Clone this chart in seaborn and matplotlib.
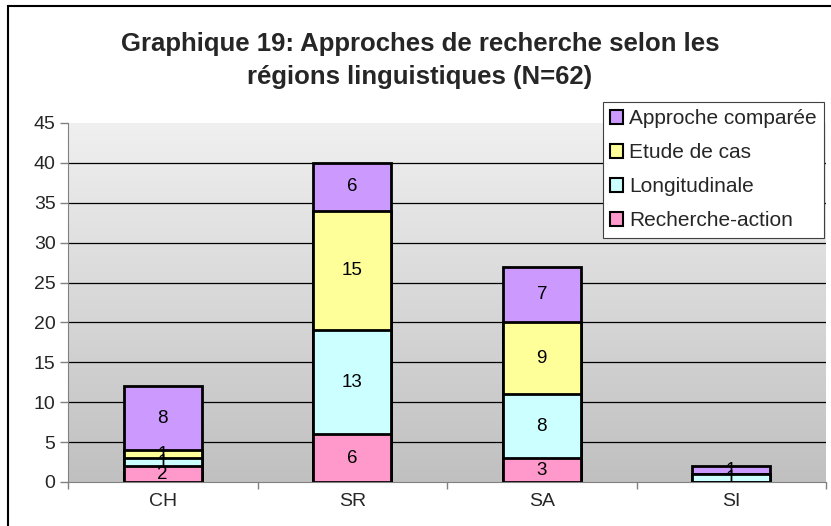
import numpy as np
import pandas as pd
import matplotlib
matplotlib.use("Agg")
import matplotlib.pyplot as plt
from matplotlib.patches import Patch, Rectangle
import seaborn as sns

regions = ["CH", "SR", "SA", "SI"]
series = ["Recherche-action", "Longitudinale", "Etude de cas", "Approche comparée"]
recherche_action = [2, 6, 3, 0]
longitudinale = [1, 13, 8, 1]
etude_de_cas = [1, 15, 9, 0]
approche_comparee = [8, 6, 7, 1]
colors = ["#FF99CC", "#CCFFFF", "#FFFF99", "#CC99FF"]
y_ticks = [0, 5, 10, 15, 20, 25, 30, 35, 40, 45]

sns.set_style("white")
plt.rcParams["font.family"] = ["Liberation Sans", "DejaVu Sans"]

df = pd.DataFrame({"region": regions,
                   series[0]: recherche_action,
                   series[1]: longitudinale,
                   series[2]: etude_de_cas,
                   series[3]: approche_comparee})
cum = df[series].cumsum(axis=1)

fig = plt.figure(figsize=(8.31, 5.26), dpi=100)
ax = fig.add_axes([68/831, 44/526, 758/831, 359/526])

# gradient background of the plot area
grad = np.linspace(0, 1, 256).reshape(-1, 1)
cmap = matplotlib.colors.LinearSegmentedColormap.from_list("g", ["#C0C0C0", "#F0F0F0"])
ax.imshow(grad, cmap=cmap, aspect="auto", extent=[-0.5, 3.5, 0, 45],
          origin="lower", zorder=0)

for yv in y_ticks[1:-1]:
    ax.axhline(yv, color="black", lw=0.9, zorder=1)

# stacked bars: draw cumulative totals from the top series down
for i in range(len(series) - 1, -1, -1):
    sns.barplot(x=df["region"], y=cum[series[i]], color=colors[i], width=0.41,
                edgecolor="black", linewidth=2, saturation=1, ax=ax, zorder=2)

for i, s in enumerate(series):
    for j in range(len(regions)):
        v = df[s][j]
        if v > 0:
            mid = cum[s][j] - v / 2
            ax.text(j, mid, str(v), ha="center", va="center", fontsize=13.5,
                    color="black", zorder=3)

ax.set_xlim(-0.5, 3.5)
ax.set_ylim(0, 45)
ax.set_yticks(y_ticks)
ax.set_xlabel("")
ax.set_ylabel("")
ax.tick_params(axis="y", labelsize=14, length=6, width=1, color="#808080",
               direction="out", pad=3, left=True)
ax.tick_params(axis="x", which="major", labelsize=14, length=0, pad=8)
ax.set_xticks([-0.5, 0.5, 1.5, 2.5, 3.5], minor=True)
ax.tick_params(axis="x", which="minor", length=5, width=1, color="#808080",
               direction="out", bottom=True)
for side in ["top", "right"]:
    ax.spines[side].set_visible(False)
ax.spines["left"].set_color("#808080")
ax.spines["bottom"].set_color("#808080")
ax.spines["left"].set_zorder(4)
ax.spines["bottom"].set_zorder(4)

fig.text(420/831, 1 - 44/526, "Graphique 19: Approches de recherche selon les",
         ha="center", va="center", fontsize=18.5, fontweight="bold")
fig.text(420/831, 1 - 77/526, "régions linguistiques (N=62)",
         ha="center", va="center", fontsize=18.5, fontweight="bold")

handles = [Patch(facecolor=colors[i], edgecolor="black", linewidth=1.5, label=series[i])
           for i in range(len(series) - 1, -1, -1)]
leg = fig.legend(handles=handles, loc="upper left",
                 bbox_to_anchor=(603/831, 1 - 102/526), bbox_transform=fig.transFigure,
                 fontsize=15, frameon=True, fancybox=False, framealpha=1,
                 edgecolor="#404040", handlelength=0.6, handleheight=0.6,
                 handletextpad=0.3, labelspacing=0.72, borderpad=0.35,
                 borderaxespad=0)
leg.get_frame().set_linewidth(0.8)

fig.patches.append(Rectangle((8/831, -0.1), 1.2, 1 - 6/526 + 0.1, transform=fig.transFigure,
                             fill=False, edgecolor="black", linewidth=1.5))

fig.savefig("out.png", dpi=100)
